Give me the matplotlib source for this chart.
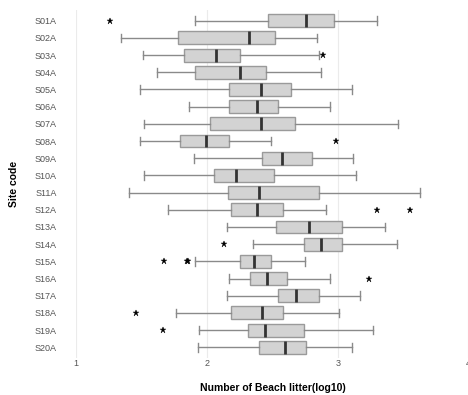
import matplotlib
matplotlib.use("Agg")
import matplotlib.pyplot as plt

plt.rcParams['font.family'] = ['Liberation Sans', 'DejaVu Sans']

# Data (log10 scale)
sites = ["S01A", "S02A", "S03A", "S04A", "S05A", "S06A", "S07A", "S08A", "S09A", "S10A",
         "S11A", "S12A", "S13A", "S14A", "S15A", "S16A", "S17A", "S18A", "S19A", "S20A"]
whislo = [1.91, 1.34, 1.51, 1.62, 1.49, 1.86, 1.52, 1.49, 1.90, 1.52,
          1.40, 1.70, 2.15, 2.35, 1.91, 2.17, 2.15, 1.76, 1.94, 1.93]
q1 = [2.47, 1.78, 1.82, 1.91, 2.17, 2.17, 2.02, 1.79, 2.42, 2.05,
      2.16, 2.18, 2.53, 2.74, 2.25, 2.33, 2.54, 2.18, 2.31, 2.40]
med = [2.76, 2.32, 2.07, 2.25, 2.41, 2.38, 2.41, 1.99, 2.57, 2.22,
       2.40, 2.38, 2.78, 2.87, 2.36, 2.46, 2.68, 2.42, 2.44, 2.60]
q3 = [2.97, 2.52, 2.25, 2.45, 2.64, 2.54, 2.67, 2.17, 2.80, 2.51,
      2.86, 2.58, 3.03, 3.03, 2.49, 2.61, 2.86, 2.58, 2.74, 2.76]
whishi = [3.30, 2.84, 2.86, 2.87, 3.11, 2.94, 3.46, 2.49, 3.12, 3.14,
          3.63, 2.91, 3.36, 3.45, 2.75, 2.94, 3.17, 3.01, 3.27, 3.11]
outliers = [[1.26], [], [2.89], [], [], [], [], [2.99], [], [],
            [], [3.30, 3.55], [], [2.13], [1.67, 1.85, 1.855], [3.24], [], [1.46], [1.66], []]

stats = []
for i in range(len(sites)):
    stats.append(dict(label=sites[i], whislo=whislo[i], q1=q1[i], med=med[i],
                      q3=q3[i], whishi=whishi[i], fliers=outliers[i]))

fig = plt.figure(figsize=(4.68, 3.95), dpi=100)
ax = fig.add_axes([76.3 / 468, 1 - 357.6 / 395, (468.5 - 76.3) / 468, (357.6 - 10.4) / 395])

ax.bxp(stats, positions=range(len(sites)), vert=False, widths=0.75, capwidths=0.5,
       patch_artist=True,
       boxprops=dict(facecolor="#d3d3d3", edgecolor="#9a9a9a", linewidth=1),
       medianprops=dict(color="#333333", linewidth=2),
       whiskerprops=dict(color="#8a8a8a", linewidth=1),
       capprops=dict(color="#8a8a8a", linewidth=1),
       flierprops=dict(marker="*", markersize=5, markerfacecolor="black",
                       markeredgecolor="black", markeredgewidth=0.3, linestyle="none"))

ax.set_xlim(1, 4)
ax.set_ylim(len(sites) - 0.4, -0.6)
ax.set_xticks([1, 2, 3, 4])
ax.set_xticklabels(["1", "2", "3", "4"])
ax.grid(axis="x", color="#ebebeb", linewidth=0.8)
ax.set_axisbelow(True)
for s in ax.spines.values():
    s.set_visible(False)
ax.tick_params(axis="x", length=0, labelsize=6.5, labelcolor="#555555", pad=1)
ax.tick_params(axis="y", length=0, labelsize=6.5, labelcolor="#555555", pad=14)
ax.set_xlabel("Number of Beach litter(log10)", fontsize=7.5, fontweight="bold")
ax.set_ylabel("Site code", fontsize=7.5, fontweight="bold")
ax.xaxis.set_label_coords(0.5, (357.6 - 388) / 347.2)
ax.xaxis.label.set_va("center")
ax.yaxis.set_label_coords((14 - 76.3) / 392.2, 0.5)
ax.yaxis.label.set_va("center")

plt.savefig("out.png", dpi=100)
